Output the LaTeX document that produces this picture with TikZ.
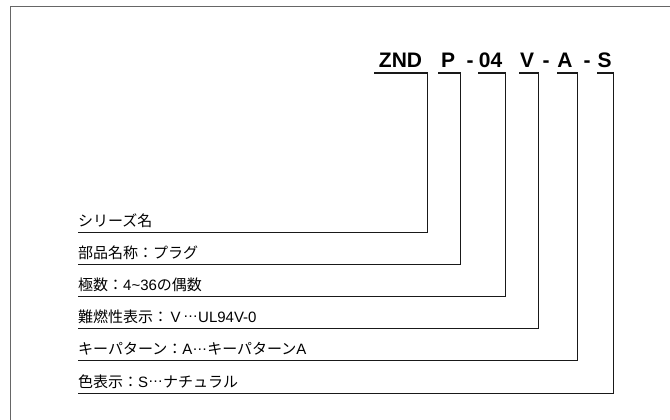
\documentclass[tikz,border=0pt]{standalone}
\usepackage{fontspec}
\setmainfont{Liberation Sans}
\newfontfamily\jp{Noto Sans CJK JP}
\newcommand{\dotsjp}{\raisebox{.3em}{…}}

\tikzset{
	code/.style={anchor=base, inner sep=0, font=\bfseries\fontsize{21}{21}\selectfont},
	part/.style={anchor=base west, inner sep=0, font=\fontsize{15}{15}\selectfont},
	leader/.style={black!90, line width=1pt},
	bar/.style={fill=black!90},
}

\begin{document}
\begin{tikzpicture}[x=1pt,y=-1pt]
	\useasboundingbox (0,0) rectangle (670,420);
	% frame
	\draw [black!60, line width=1.3pt] (10.5,420) -- (10.5,6.5) -- (670,6.5);

	% code
	\node [code] (znd) at (400.5,67.5) {ZND};
	\node [code] (p) at (448,67.5) {P};
	\node [code] (h1) at (470,67.5) {-};
	\node [code] (num) at (490.5,67.5) {04};
	\node [code] (v) at (527,67.5) {V};
	\node [code] (h2) at (546,67.5) {-};
	\node [code] (a) at (565,67.5) {A};
	\node [code] (h3) at (587,67.5) {-};
	\node [code] (s) at (604.5,67.5) {S};

	% underline ends
	\coordinate (zndL) at (374,73);
	\coordinate (zndR) at (427.5,73);
	\coordinate (pL) at (438,73);
	\coordinate (pR) at (460,73);
	\coordinate (numL) at (478,73);
	\coordinate (numR) at (505,73);
	\coordinate (vL) at (519,73);
	\coordinate (vR) at (538.5,73);
	\coordinate (aL) at (557,73);
	\coordinate (aR) at (577.5,73);
	\coordinate (sL) at (597,73);
	\coordinate (sR) at (613.5,73);

	% label
	\node [part] (series) at (78,226) {\jp シリーズ名};
	\node [part] (name) at (78,258) {\jp 部品名称：プラグ};
	\node [part] (poles) at (78,290) {{\jp 極数：}4\textasciitilde 36{\jp の偶数}};
	\node [part] (flame) at (78,322) {{\jp 難燃性表示：}\,V\,\dotsjp UL94V-0};
	\node [part] (key) at (78,354.5) {{\jp キーパターン：}A\dotsjp{\jp キーパターン}A};
	\node [part] (color) at (78,387) {{\jp 色表示：}S\dotsjp{\jp ナチュラル}};

	% leaders
	\draw [leader] (zndR) |- ([yshift=-6pt]series.base west);
	\draw [leader] (pR) |- ([yshift=-6pt]name.base west);
	\draw [leader] (numR) |- ([yshift=-6pt]poles.base west);
	\draw [leader] (vR) |- ([yshift=-6pt]flame.base west);
	\draw [leader] (aR) |- ([yshift=-6pt]key.base west);
	\draw [leader] (sR) |- ([yshift=-6pt]color.base west);

	% underline
	\fill [bar] ([yshift=.6pt]zndL) rectangle ([yshift=-.6pt,xshift=.5pt]zndR);
	\fill [bar] ([yshift=.6pt]pL) rectangle ([yshift=-.6pt,xshift=.5pt]pR);
	\fill [bar] ([yshift=.6pt]numL) rectangle ([yshift=-.6pt,xshift=.5pt]numR);
	\fill [bar] ([yshift=.6pt]vL) rectangle ([yshift=-.6pt,xshift=.5pt]vR);
	\fill [bar] ([yshift=.6pt]aL) rectangle ([yshift=-.6pt,xshift=.5pt]aR);
	\fill [bar] ([yshift=.6pt]sL) rectangle ([yshift=-.6pt,xshift=.5pt]sR);
\end{tikzpicture}
\end{document}
